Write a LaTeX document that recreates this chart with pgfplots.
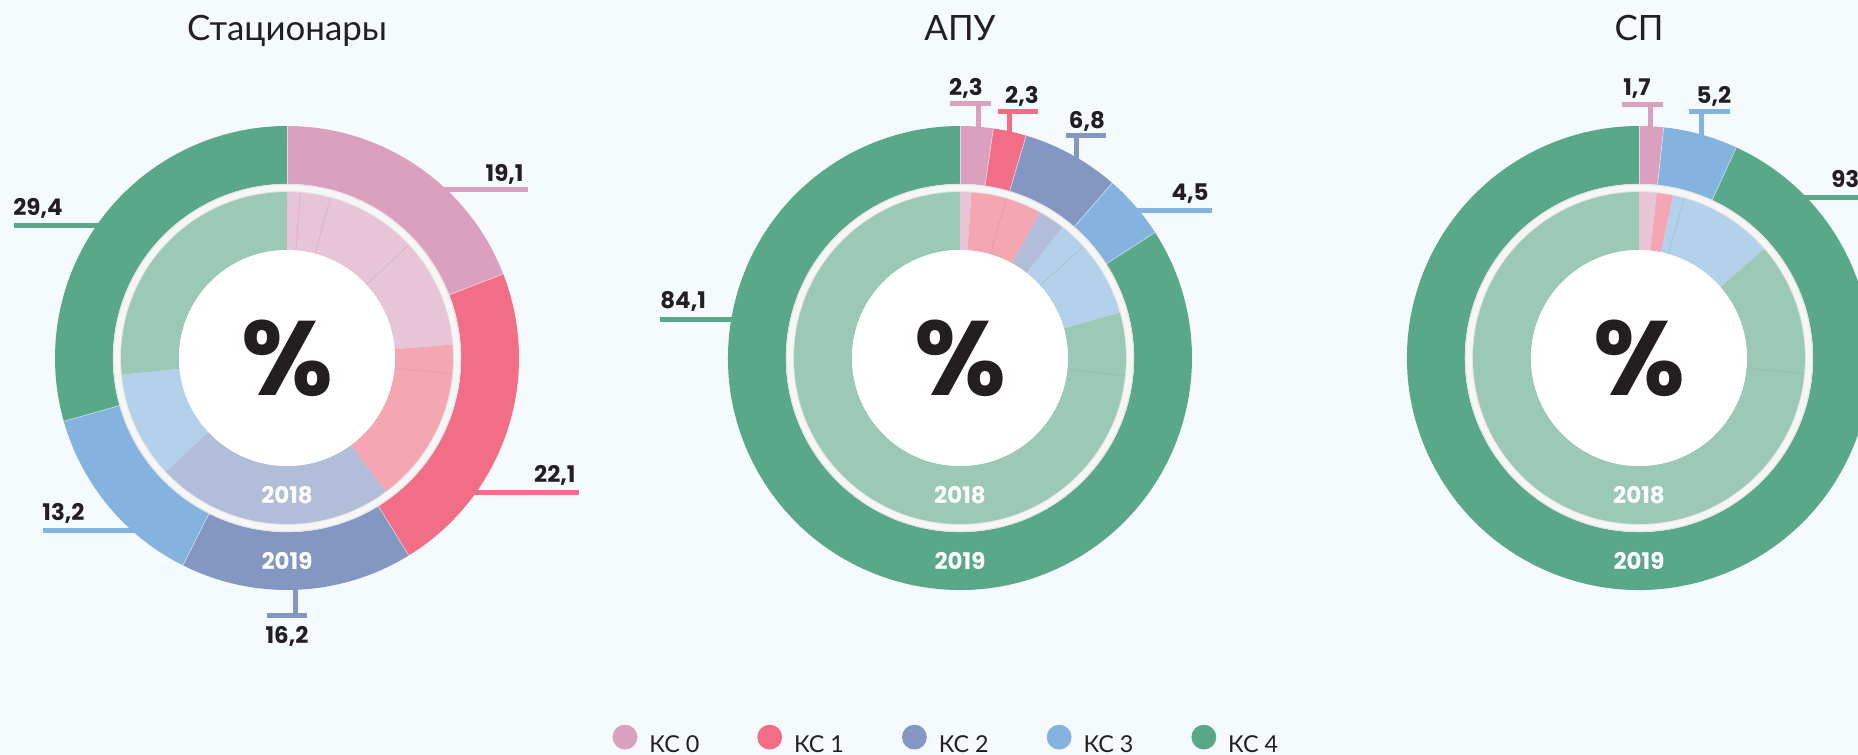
\documentclass[border=0pt]{standalone}
\usepackage{pgfplots}
\pgfplotsset{compat=1.18}
\usepackage{pgfplotstable}
\usepackage{fontspec}
\setmainfont{Lato}
\newfontfamily\numfont{Poppins}

\definecolor{bgc}{HTML}{F5FAFD}
\definecolor{textc}{HTML}{231F20}
\definecolor{kc0o}{HTML}{DBA0BE}
\definecolor{kc1o}{HTML}{F16E86}
\definecolor{kc2o}{HTML}{8497C3}
\definecolor{kc3o}{HTML}{83B3DE}
\definecolor{kc4o}{HTML}{59A88A}
\definecolor{kc0i}{HTML}{E8C4D7}
\definecolor{kc1i}{HTML}{F4A6B3}
\definecolor{kc2i}{HTML}{B2BED9}
\definecolor{kc3i}{HTML}{B3D1EA}
\definecolor{kc4i}{HTML}{9CC9B6}
\definecolor{sepc}{HTML}{F6F6F6}
\definecolor{sepl}{HTML}{E4E4E4}

% 2019 (outer) and 2018 (inner) shares, %
\pgfplotstableread{
v c d
19.1 kc0o 1
22.1 kc1o 1
16.2 kc2o 1
13.2 kc3o 1
29.4 kc4o 1
}\stOut
\pgfplotstableread{
v c d
1.3 kc0i 0
2.9 kc0i 1
8.9 kc0i 1
10.6 kc0i 1
2.8 kc1i 0
13.4 kc1i 1
23.1 kc2i 0
10.4 kc3i 0
26.6 kc4i 0
}\stIn
\pgfplotstableread{
v c d
2.3 kc0o 1
2.3 kc1o 1
6.8 kc2o 1
4.5 kc3o 1
84.1 kc4o 1
}\apOut
\pgfplotstableread{
v c d
1.1 kc0i 0
3.4 kc1i 0
3.5 kc1i 1
2.6 kc2i 0
2.7 kc3i 0
7.3 kc3i 1
6.1 kc4i 0
73.3 kc4i 1
}\apIn
\pgfplotstableread{
v c d
1.7 kc0o 1
5.2 kc3o 1
93.1 kc4o 1
}\spOut
\pgfplotstableread{
v c d
1.7 kc0i 0
1.6 kc1i 0
1.1 kc3i 0
9.2 kc3i 1
12.9 kc4i 0
73.5 kc4i 1
}\spIn

\def\pxu{0.5}% bp per pixel unit
% #1 cx, #2 cy, #3 r inner, #4 r outer, #5 table, #6 style of slice-start line
\newcommand\ring[6]{%
  \pgfplotstablegetrowsof{#5}%
  \pgfmathtruncatemacro{\nlast}{\pgfplotsretval-1}%
  \gdef\cum{0}%
  \foreach \i in {0,...,\nlast}{%
    \pgfplotstablegetelem{\i}{v}\of{#5}\let\val\pgfplotsretval
    \pgfplotstablegetelem{\i}{c}\of{#5}\let\col\pgfplotsretval
    \pgfmathsetmacro{\as}{90-3.6*\cum}%
    \pgfmathsetmacro{\ae}{90-3.6*(\cum+\val)}%
    \pgfmathsetmacro{\ro}{#4*\pxu}%
    \pgfmathsetmacro{\ri}{#3*\pxu}%
    \fill[fill=\col] (axis cs:{#1+#4*cos(\as)},{#2+#4*sin(\as)})
      arc[start angle=\as, end angle=\ae, radius=\ro bp]
      -- (axis cs:{#1+#3*cos(\ae)},{#2+#3*sin(\ae)})
      arc[start angle=\ae, end angle=\as, radius=\ri bp] -- cycle;
    \pgfmathsetmacro{\newcum}{\cum+\val}\xdef\cum{\newcum}%
  }%
  \gdef\cum{0}%
  \foreach \i in {0,...,\nlast}{%
    \pgfplotstablegetelem{\i}{v}\of{#5}\let\val\pgfplotsretval
    \pgfplotstablegetelem{\i}{c}\of{#5}\let\col\pgfplotsretval
    \pgfplotstablegetelem{\i}{d}\of{#5}\let\dd\pgfplotsretval
    \pgfmathsetmacro{\as}{90-3.6*\cum}%
    \ifnum\dd=1
      \draw[#6] (axis cs:{#1+#3*cos(\as)},{#2+#3*sin(\as)}) -- (axis cs:{#1+#4*cos(\as)},{#2+#4*sin(\as)});
    \fi
    \pgfmathsetmacro{\newcum}{\cum+\val}\xdef\cum{\newcum}%
  }%
}
% full donut: #1 cx, #2 cy, #3 outer table, #4 inner table
\newcommand\donut[4]{%
  \ring{#1}{#2}{174}{232}{#3}{white, opacity=0.55, line width=0.35bp}%
  \fill[sepc, even odd rule] (axis cs:#1,#2) circle[radius=87bp] (axis cs:#1,#2) circle[radius=83bp];
  \draw[sepl, line width=0.5bp] (axis cs:#1,#2) circle[radius=86.8bp];
  \draw[sepl, line width=0.5bp] (axis cs:#1,#2) circle[radius=83.2bp];
  \ring{#1}{#2}{108}{166}{#4}{\col!70!black, opacity=0.35, line width=0.3bp}%
  \fill[white] (axis cs:#1,#2) circle[radius=54bp];
}

\newcommand\numf{\numfont\bfseries\fontsize{11.5}{13}\selectfont}
\newcommand\yrf{\numfont\bfseries\fontsize{11.5}{13}\selectfont}
\newcommand\titf{\fontsize{17.5}{20}\selectfont}
\newcommand\pctf{\numfont\bfseries\fontsize{53}{55}\selectfont}
\tikzset{lead/.style={line width=2.5bp}, lab/.style={inner sep=0pt, text=textc, font=\numf},
  yr/.style={inner sep=0pt, text=white, font=\yrf},
  tit/.style={anchor=base, inner sep=0pt, text=textc, font=\titf},
  pct/.style={inner sep=0pt, text=textc, font=\pctf}}

\begin{document}
\begin{tikzpicture}
\useasboundingbox (0,0) rectangle (929bp,377.5bp);
\clip (0,0) rectangle (929bp,377.5bp);
\fill[bgc] (0,0) rectangle (929bp,377.5bp);
\begin{axis}[
  at={(0,0)}, anchor=south west,
  x=0.5bp, y=0.5bp,
  xmin=0, xmax=1858, ymin=0, ymax=755,
  hide axis, disabledatascaling, clip=false,
  legend columns=-1,
  legend style={at={(axis cs:612.6,15)}, anchor=west, draw=none, fill=none,
    inner sep=0pt, outer sep=0pt,
    nodes={inner sep=0pt, text=textc, font=\fontsize{11.7}{13}\selectfont},
    /tikz/every odd column/.append style={column sep=6bp},
    /tikz/every even column/.append style={column sep=29bp}},
  legend image code/.code={\fill[#1] (0bp,4.1bp) circle[radius=6.2bp];},
]
\addlegendimage{fill=kc0o, draw=none}\addlegendentry{КС 0}
\addlegendimage{fill=kc1o, draw=none}\addlegendentry{КС 1}
\addlegendimage{fill=kc2o, draw=none}\addlegendentry{КС 2}
\addlegendimage{fill=kc3o, draw=none}\addlegendentry{КС 3}
\addlegendimage{fill=kc4o, draw=none}\addlegendentry{КС 4}

% ---- leader lines (drawn below the rings) ----
% Стационары
\draw[lead, kc0o] (axis cs:420,565.4) -- (axis cs:528,565.4);
\draw[lead, kc1o] (axis cs:450,262.4) -- (axis cs:579,262.4);
\draw[lead, kc2o] (axis cs:296,200) -- (axis cs:296,140);
\draw[lead, kc2o] (axis cs:267,140) -- (axis cs:307,140);
\draw[lead, kc3o] (axis cs:43.5,225) -- (axis cs:150,225);
\draw[lead, kc4o] (axis cs:14,530) -- (axis cs:130,530);
% АПУ
\draw[lead, kc0o] (axis cs:979,651.4) -- (axis cs:979,600);
\draw[lead, kc0o] (axis cs:950,651.4) -- (axis cs:991,651.4);
\draw[lead, kc1o] (axis cs:1010,644) -- (axis cs:1010,600);
\draw[lead, kc1o] (axis cs:998,644) -- (axis cs:1038,644);
\draw[lead, kc2o] (axis cs:1077,620) -- (axis cs:1077,580);
\draw[lead, kc2o] (axis cs:1066,620) -- (axis cs:1106,620);
\draw[lead, kc3o] (axis cs:1110,545) -- (axis cs:1212,545);
\draw[lead, kc4o] (axis cs:660,436) -- (axis cs:760,436);
% СП
\draw[lead, kc0o] (axis cs:1651,651) -- (axis cs:1651,600);
\draw[lead, kc0o] (axis cs:1622,651) -- (axis cs:1663,651);
\draw[lead, kc3o] (axis cs:1702,643.3) -- (axis cs:1702,600);
\draw[lead, kc3o] (axis cs:1689.5,643.3) -- (axis cs:1730,643.3);
\draw[lead, kc4o] (axis cs:1780,558) -- (axis cs:1880,558);

\pgfplotsextra{%
  \donut{287}{397}{\stOut}{\stIn}%
  \donut{960}{397}{\apOut}{\apIn}%
  \donut{1639}{397}{\spOut}{\spIn}%
}

% ---- texts ----
\node[tit] at (axis cs:287,715) {Стационары};
\node[tit] at (axis cs:960,715) {АПУ};
\node[tit] at (axis cs:1639,715) {СП};

\node[pct] at (axis cs:287,397) {\%};
\node[pct] at (axis cs:960,397) {\%};
\node[pct] at (axis cs:1639,397) {\%};
\node[yr] at (axis cs:287,260) {2018};
\node[yr] at (axis cs:960,260) {2018};
\node[yr] at (axis cs:1639,260) {2018};
\node[yr] at (axis cs:287,194) {2019};
\node[yr] at (axis cs:960,194) {2019};
\node[yr] at (axis cs:1639,194) {2019};

\node[lab, anchor=base east] at (axis cs:524,574) {19,1};
\node[lab, anchor=base east] at (axis cs:576,273) {22,1};
\node[lab, anchor=base] at (axis cs:287,112) {16,2};
\node[lab, anchor=base west] at (axis cs:42,235) {13,2};
\node[lab, anchor=base west] at (axis cs:13,540) {29,4};

\node[lab, anchor=base] at (axis cs:966,660) {2,3};
\node[lab, anchor=base] at (axis cs:1022,652) {2,3};
\node[lab, anchor=base] at (axis cs:1087,627) {6,8};
\node[lab, anchor=base east] at (axis cs:1209,555) {4,5};
\node[lab, anchor=base west] at (axis cs:660,447) {84,1};

\node[lab, anchor=base] at (axis cs:1637,659.5) {1,7};
\node[lab, anchor=base] at (axis cs:1714,652) {5,2};
\node[lab, anchor=base west] at (axis cs:1831,567.4) {93,1};
\end{axis}
\end{tikzpicture}
\end{document}
